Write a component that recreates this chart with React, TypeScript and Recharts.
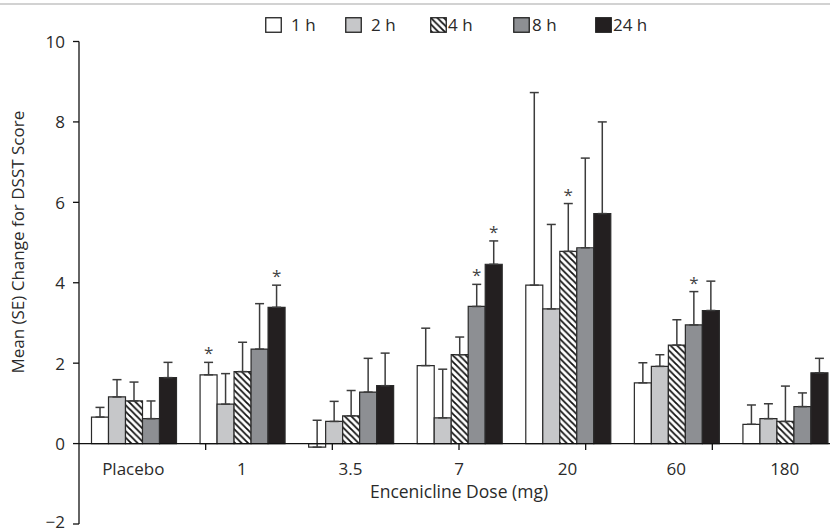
import React from 'react';
import { BarChart, Bar, XAxis, YAxis, ErrorBar, ReferenceLine, LabelList } from 'recharts';

const doses = ['Placebo', '1', '3.5', '7', '20', '60', '180'];

// mean change per time point
const h1 = [0.66, 1.71, -0.09, 1.94, 3.94, 1.51, 0.48];
const h2 = [1.16, 0.98, 0.55, 0.64, 3.35, 1.92, 0.62];
const h4 = [1.06, 1.79, 0.69, 2.21, 4.78, 2.45, 0.55];
const h8 = [0.62, 2.35, 1.28, 3.41, 4.87, 2.95, 0.92];
const h24 = [1.64, 3.39, 1.44, 4.46, 5.72, 3.31, 1.76];

// SE (drawn upward only)
const h1Err = [0.24, 0.31, 0.67, 0.93, 4.79, 0.5, 0.48];
const h2Err = [0.43, 0.76, 0.5, 1.21, 2.1, 0.29, 0.37];
const h4Err = [0.47, 0.73, 0.63, 0.44, 1.19, 0.63, 0.88];
const h8Err = [0.44, 1.13, 0.84, 0.55, 2.23, 0.83, 0.34];
const h24Err = [0.38, 0.55, 0.81, 0.58, 2.28, 0.73, 0.36];

// significance markers
const h1Star = [false, true, false, false, false, false, false];
const h2Star = [false, false, false, false, false, false, false];
const h4Star = [false, false, false, false, true, false, false];
const h8Star = [false, false, false, true, false, true, false];
const h24Star = [false, true, false, true, false, false, false];

const yTicks = [-2, 0, 2, 4, 6, 8, 10];

const FONT = "'Open Sans', sans-serif";
const TEXT = '#2a2a2a';

const series = [
  { key: 'h1', name: '1 h', values: h1, err: h1Err, star: h1Star, fill: '#ffffff' },
  { key: 'h2', name: '2 h', values: h2, err: h2Err, star: h2Star, fill: '#c6c7c9' },
  { key: 'h4', name: '4 h', values: h4, err: h4Err, star: h4Star, fill: 'url(#hatch)' },
  { key: 'h8', name: '8 h', values: h8, err: h8Err, star: h8Star, fill: '#8d8f93' },
  { key: 'h24', name: '24 h', values: h24, err: h24Err, star: h24Star, fill: '#231f20' },
];

const data = doses.map((dose, i) => {
  const row: Record<string, any> = { dose };
  series.forEach((s) => {
    row[s.key] = s.values[i];
    row[s.key + 'Err'] = [0, s.err[i]];
    row[s.key + 'Star'] = s.star[i];
  });
  return row;
});

const makeStar = (errs: number[], values: number[]) => (props: any) => {
  const { index, value } = props;
  if (!value) return null;
  const vb = props.viewBox || props;
  const x = Number(props.x ?? vb.x);
  const y = Number(props.y ?? vb.y);
  const w = Number(props.width ?? vb.width);
  const h = Number(props.height ?? vb.height);
  const ppu = Math.abs(h) / Math.abs(values[index]);
  const top = y - errs[index] * ppu;
  return (
    <text x={x + w / 2} y={top - 3} textAnchor="middle" fontSize={17} fill="#444" fontFamily={FONT}>
      *
    </text>
  );
};

const HatchDef = ({ id }: { id: string }) => (
  <pattern id={id} patternUnits="userSpaceOnUse" width={6.5} height={6.5}>
    <rect width={6.5} height={6.5} fill="#fff" />
    <path d="M0,0 L6.5,6.5 M-1.625,4.875 L1.625,8.125 M4.875,-1.625 L8.125,1.625" stroke="#111" strokeWidth={1.8} />
  </pattern>
);

const legendGap = [9, 9, 1, 2, 1];
const legendWidth = [80, 85, 83, 82, 70];

function LegendBox() {
  return (
    <div style={{ position: 'absolute', left: 265, top: 13, display: 'flex', fontFamily: FONT, fontSize: 17, color: TEXT }}>
      {series.map((s, i) => (
        <div key={s.key} style={{ display: 'flex', alignItems: 'center', width: legendWidth[i] }}>
          <svg width={17} height={16} style={{ marginRight: legendGap[i] }}>
            <defs>
              <HatchDef id="hatchLegend" />
            </defs>
            <rect x={0.75} y={0.75} width={15.5} height={14.5} fill={s.key === 'h4' ? 'url(#hatchLegend)' : s.fill} stroke="#222" strokeWidth={1.3} />
          </svg>
          <span>{s.name}</span>
        </div>
      ))}
    </div>
  );
}

// category labels sit just under the zero line
const DoseTick = (props: any) => {
  const { x, y, payload } = props;
  return (
    <text x={x} y={y - 49} textAnchor="middle" fontSize={17} fill={TEXT} fontFamily={FONT}>
      {payload.value}
    </text>
  );
};

export default function App() {
  return (
    <div style={{ position: 'absolute', left: 0, top: 0, width: 830, height: 531, overflow: 'hidden', background: '#fff' }}>
      <div style={{ position: 'absolute', left: 0, top: 3, width: 830, height: 2, background: '#d2d2d2' }} />
      <LegendBox />
      <BarChart
        width={840}
        height={531}
        data={data}
        margin={{ top: 41.5, right: 1, bottom: 6, left: 0 }}
        barCategoryGap={12.5}
        barGap={0}
      >
        <defs>
          <HatchDef id="hatch" />
        </defs>
        <XAxis
          dataKey="dose"
          height={1}
          axisLine={false}
          tickLine={false}
          tickSize={0}
          tickMargin={0}
          interval={0}
          tick={<DoseTick />}
        />
        <XAxis xAxisId="div" type="number" domain={[0, 7]} hide />
        <YAxis
          width={79}
          domain={[-2, 10]}
          ticks={yTicks}
          interval={0}
          tickSize={6}
          tickMargin={8}
          axisLine={{ stroke: '#111', strokeWidth: 1.3 }}
          tickLine={{ stroke: '#111', strokeWidth: 1.3 }}
          tick={(p: any) => (
            <text x={p.x} y={p.y - (p.payload.value < 0 ? 3 : 0)} textAnchor="end" dominantBaseline="central" fontSize={17} fill={TEXT} fontFamily={FONT}>
              {p.payload.value < 0 ? '\u2212' + Math.abs(p.payload.value) : String(p.payload.value)}
            </text>
          )}
          label={{
            content: (p: any) => {
              const vb = p.viewBox;
              const cx = vb.x + 18;
              const cy = vb.y + vb.height * 0.416;
              return (
                <text x={cx} y={cy} transform={`rotate(-90, ${cx}, ${cy})`} textAnchor="middle" dominantBaseline="central" fontSize={17} fill={TEXT} fontFamily={FONT}>
                  Mean (SE) Change for DSST Score
                </text>
              );
            },
          }}
        />
        {series.map((s) => (
          <Bar key={s.key} dataKey={s.key} name={s.name} fill={s.fill} stroke="#2a2a2a" strokeWidth={1.2} isAnimationActive={false}>
            <ErrorBar dataKey={s.key + 'Err'} direction="y" width={4.5} stroke="#3c3c3c" strokeWidth={1.5} />
            <LabelList dataKey={s.key + 'Star'} content={makeStar(s.err, s.values)} />
          </Bar>
        ))}
        <ReferenceLine
          y={0}
          stroke="#111"
          strokeWidth={1.4}
          label={{
            content: (p: any) => {
              const vb = p.viewBox;
              return (
                <text x={vb.x + vb.width * 0.5} y={vb.y + 54} textAnchor="middle" fontSize={17.5} fill={TEXT} fontFamily={FONT}>
                  Encenicline Dose (mg)
                </text>
              );
            },
          }}
        />
        {[1, 2, 3, 4, 5, 6].map((b) => (
          <ReferenceLine
            key={b}
            xAxisId="div"
            segment={[
              { x: b, y: 0 },
              { x: b, y: -0.16 },
            ]}
            stroke="#111"
            strokeWidth={1.3}
          />
        ))}
      </BarChart>
    </div>
  );
}
